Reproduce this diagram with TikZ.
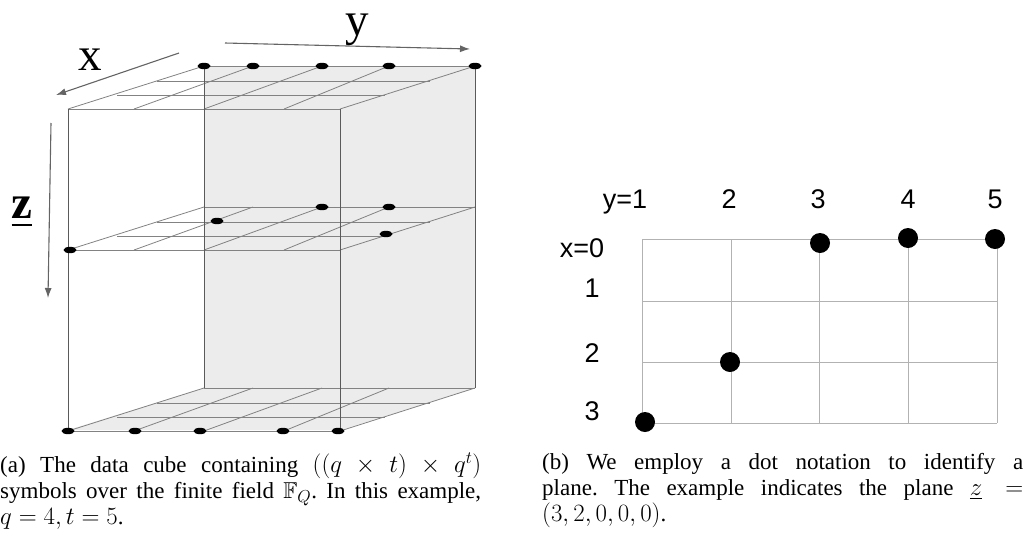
\documentclass[tikz,border=0pt]{standalone}
\usepackage{amsmath,amssymb}
\usepackage{fontspec}
\setmainfont{Liberation Serif}
\newfontfamily\gridfont{Liberation Sans}
\usetikzlibrary{arrows.meta,positioning}
\definecolor{edgec}{RGB}{90,90,90}
\definecolor{planec}{RGB}{130,130,130}
\definecolor{facec}{RGB}{236,236,236}
\definecolor{axisc}{RGB}{100,100,100}
\definecolor{gridc}{RGB}{178,178,178}

\tikzset{
  cubeedge/.style={edgec,line width=0.9pt},
  planeline/.style={planec,line width=0.8pt},
  axisarrow/.style={axisc,line width=1.1pt,-{Latex[length=10pt,width=7pt]}},
  axislab/.style={anchor=base,font=\fontsize{47}{52}\selectfont,inner sep=0pt},
  gridlab/.style={anchor=base,font=\gridfont\fontsize{27}{30}\selectfont,inner sep=0pt},
  capbox/.style={anchor=north west,inner sep=0pt,text width=481pt,align=justify,
                 font=\fontsize{23}{26}\selectfont\frenchspacing}
}

% one x-y plane of the cube, back edge at height #1
\newcommand{\cubeplane}[1]{%
  \foreach \bx/\fx in {204/68,253/134,322/204,389/284,475/340}{
    \draw[planeline] (\bx,#1) -- (\fx,#1+43);
  }
  \draw[planeline] (204,#1) -- (475,#1);
  \draw[planeline] (157,#1+15) -- (430,#1+15);
  \draw[planeline] (117,#1+29) -- (385,#1+29);
  \draw[planeline] (68,#1+43) -- (340,#1+43);
}
\newcommand{\cubedot}[2]{\fill (#1,#2) ellipse [x radius=6.5,y radius=3.2];}

\begin{document}
\begin{tikzpicture}[x=1pt,y=-1pt]
\useasboundingbox (0,0) rectangle (1024,536);

% shaded faces
\fill[facec] (204,66) rectangle (475,388);
\fill[facec] (475,66) -- (475,388) -- (340,430) -- (340,109) -- cycle;
\fill[facec] (204,388) -- (475,388) -- (340,430) -- (68,430) -- cycle;

% planes
\cubeplane{66}
\cubeplane{207}
\cubeplane{388}

% vertical edges
\foreach \ex/\ey in {68/109,340/109}{
  \draw[cubeedge] (\ex,\ey) -- (\ex,430);
}
\foreach \ex in {204,475}{
  \draw[cubeedge] (\ex,66) -- (\ex,388);
}

% dots
\foreach \px in {204,253,322,389,475}{ \cubedot{\px}{66} }
\foreach \px/\py in {322/207,389/207,217/221,386/234,70/250}{ \cubedot{\px}{\py} }
\foreach \px in {68,135,200,283,338}{ \cubedot{\px}{431} }

% axes
\coordinate (xs) at (179,53);  \coordinate (xe) at (56,95);
\coordinate (ys) at (225,43);  \coordinate (ye) at (470,49);
\coordinate (zs) at (51,123);  \coordinate (ze) at (48,298);
\draw[axisarrow] (xs) -- (xe);
\draw[axisarrow] (ys) -- (ye);
\draw[axisarrow] (zs) -- (ze);
\node[axislab] (xlab) at (90,70) {x};
\node[axislab] (ylab) at (357,35) {y};
\node[axislab] (zlab) at (22,218) {\textbf{\underline{z}}};

% dot notation grid
\foreach \gx in {642,731,819,908,997}{
  \draw[gridc,line width=1pt] (\gx,239) -- (\gx,423);
}
\foreach \gy in {239,301,362,423}{
  \draw[gridc,line width=1pt] (642,\gy) -- (997,\gy);
}
\foreach \dx/\dy in {820/243,908/238,995/239,730/362,645/422}{
  \fill (\dx,\dy) circle [radius=10];
}
\node[gridlab] (y1) at (625,208) {y=1};
\foreach \lx/\n in {729/2,818/3,908/4,995/5}{
  \node[gridlab] (y\n) at (\lx,208) {\n};
}
\node[gridlab] (x0) at (582,257) {x=0};
\foreach \ly/\n in {297/1,362/2,420/3}{
  \node[gridlab] (x\n) at (592,\ly) {\n};
}

% captions
\node[capbox] (capa) at (0,453) {(a) The data cube containing $((q\times t)\times q^t)$\linebreak
  symbols over the finite field $\mathbb{F}_Q$. In this example,\linebreak $q=4,t=5$.};
\node[capbox] (capb) at (542,453) {(b) We employ a dot notation to identify a\linebreak
  plane. The example indicates the plane $\underline{z}$\quad $=$\linebreak $(3,2,0,0,0)$.};

\end{tikzpicture}
\end{document}
